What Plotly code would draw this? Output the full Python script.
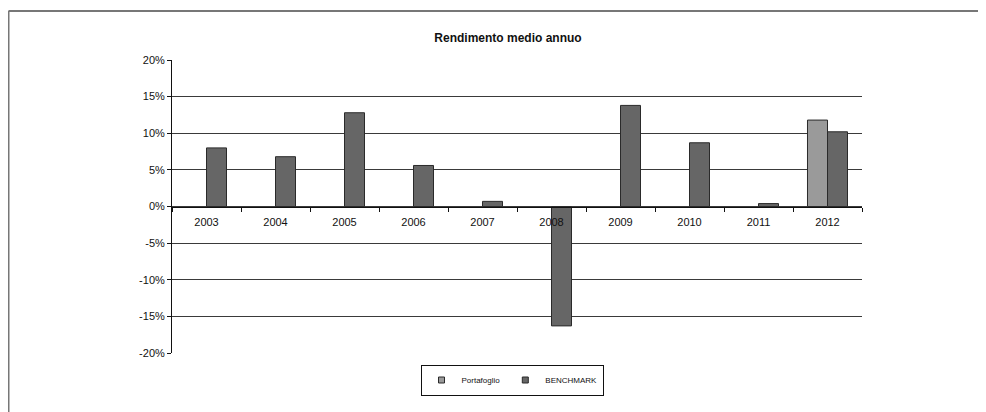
import plotly.graph_objects as go

years = ["2003", "2004", "2005", "2006", "2007", "2008", "2009", "2010", "2011", "2012"]
portafoglio = [None, None, None, None, None, None, None, None, None, 0.118]
benchmark = [0.080, 0.068, 0.128, 0.056, 0.007, -0.163, 0.138, 0.087, 0.004, 0.102]
y_ticks = [-0.20, -0.15, -0.10, -0.05, 0.0, 0.05, 0.10, 0.15, 0.20]
y_ticktext = [f"{round(v * 100)}%" for v in y_ticks]

FONT = "Liberation Sans, Arial, sans-serif"
C_PORT = "#9a9a9a"
C_BENCH = "#666666"
C_EDGE = "#2a2a2a"

# figure pixel geometry (page has an 8px body margin)
W, H = 978, 404
L, R, T, B = 164, 124, 52, 59
PW, PH = W - L - R, H - T - B


def px_x(fx):
    return (fx - L) / PW


def px_y(fy):
    return (H - B - fy) / PH


fig = go.Figure()
fig.add_trace(go.Bar(
    x=years, y=portafoglio, name="Portafoglio", showlegend=False,
    marker=dict(color=C_PORT, line=dict(color=C_EDGE, width=1)),
))
fig.add_trace(go.Bar(
    x=years, y=benchmark, name="BENCHMARK", showlegend=False,
    marker=dict(color=C_BENCH, line=dict(color=C_EDGE, width=1)),
))
# compact legend entries (small square keys like the reference)
for name, col in [("Portafoglio", C_PORT), ("BENCHMARK", C_BENCH)]:
    fig.add_trace(go.Scatter(
        x=[None], y=[None], mode="markers", name=name, showlegend=True,
        marker=dict(symbol="square", size=6, color=col, line=dict(color=C_EDGE, width=1)),
    ))

fig.update_layout(
    width=W, height=H,
    margin=dict(l=L, r=R, t=T, b=B, autoexpand=False),
    paper_bgcolor="white", plot_bgcolor="white",
    barmode="group", bargap=0.42, bargroupgap=0,
    font=dict(family=FONT, size=11, color="#111111"),
    title=dict(text="<b>Rendimento medio annuo</b>", x=500 / W, xanchor="center",
               y=1 - 30 / H, yanchor="middle", automargin=False,
               font=dict(family=FONT, size=12, color="#111111")),
    showlegend=True,
    legend=dict(orientation="h", x=px_x(504), y=px_y(372),
                xanchor="center", yanchor="middle",
                bordercolor="#111111", borderwidth=1, bgcolor="white",
                font=dict(family=FONT, size=8, color="#111111"),
                itemwidth=30, tracegroupgap=0),
    xaxis=dict(type="category", range=[-0.5, 9.5], anchor="free", position=0.5,
               automargin=False,
               showline=True, linecolor="#111111", linewidth=1,
               ticks="outside", tickson="boundaries", ticklen=4, tickcolor="#111111",
               ticklabelstandoff=5,
               showgrid=False,
               tickfont=dict(family=FONT, size=11, color="#111111")),
    yaxis=dict(range=[-0.20, 0.20], tickvals=y_ticks, ticktext=y_ticktext,
               automargin=False,
               showline=True, linecolor="#111111", linewidth=1,
               ticks="outside", ticklen=4, tickcolor="#111111",
               showgrid=True, gridcolor="#3a3a3a", gridwidth=1,
               zeroline=False,
               tickfont=dict(family=FONT, size=11, color="#111111")),
)

# outer chart border (top and left edges, as in the reference)
x_left = px_x(0.5)
y_top = px_y(3)
fig.add_shape(type="line", xref="paper", yref="paper", x0=x_left, x1=px_x(W + 5),
              y0=y_top, y1=y_top, line=dict(color="#777777", width=2))
fig.add_shape(type="line", xref="paper", yref="paper", x0=x_left, x1=x_left,
              y0=y_top, y1=px_y(H + 5), line=dict(color="#777777", width=2))

fig.write_html("out.html")
